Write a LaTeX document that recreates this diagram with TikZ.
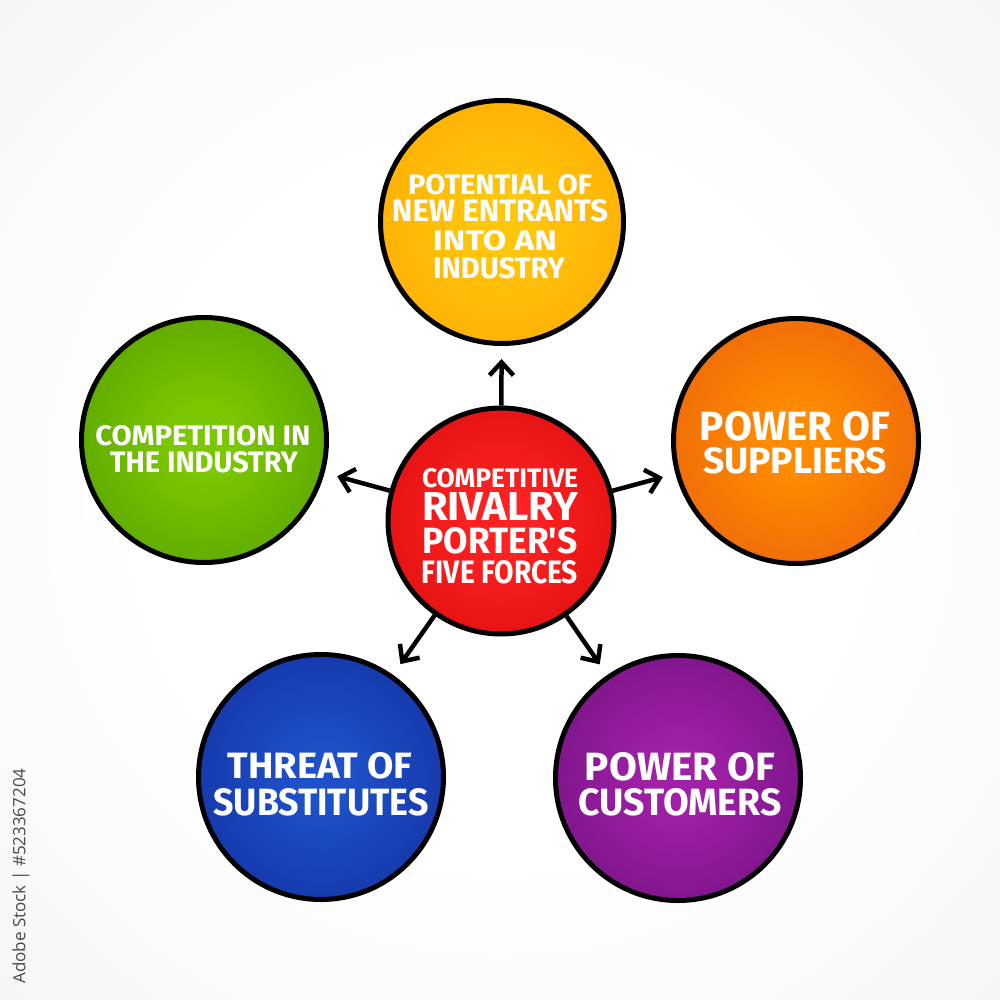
\documentclass[tikz,border=0pt]{standalone}
\usepackage{fontspec}
\usepackage{graphicx}
\usetikzlibrary{arrows.meta}
\newfontfamily\handfont{Fira Sans}
\newfontfamily\wmfont{Open Sans}
\definecolor{bgedge}{HTML}{EEEEEE}
\definecolor{bgcorner}{HTML}{E8E8E8}
\definecolor{wmgray}{HTML}{4A4A4A}
\definecolor{topin}{HTML}{FFC60A}
\definecolor{topout}{HTML}{FF9A00}
\definecolor{suppin}{HTML}{FF8C00}
\definecolor{suppout}{HTML}{E04812}
\definecolor{compin}{HTML}{7CC800}
\definecolor{compout}{HTML}{3F8A00}
\definecolor{subin}{HTML}{1E50C8}
\definecolor{subout}{HTML}{0C1E8A}
\definecolor{custin}{HTML}{A020A8}
\definecolor{custout}{HTML}{5A0A6A}
\definecolor{midin}{HTML}{FF2222}
\definecolor{midout}{HTML}{C80000}
\colorlet{ballin}{midin}
\colorlet{ballout}{midout}
\pgfdeclareradialshading[ballin,ballout]{ballfade}{\pgfpoint{0bp}{0bp}}{color(0bp)=(ballin); color(6bp)=(ballin); color(50bp)=(ballout)}
\pgfdeclareradialshading{bgfade}{\pgfpoint{0bp}{0bp}}{color(0bp)=(white); color(18bp)=(white); color(50bp)=(bgedge); color(72bp)=(bgcorner)}
\tikzset{
  fball/.style 2 args={circle, draw=black, line width=5pt, minimum size=245pt, inner sep=0pt,
    /utils/exec={\colorlet{ballin}{#1}\colorlet{ballout}{#2}}, shade, shading=ballfade},
  arr/.style={line width=4.5pt, -{Straight Barb[length=13pt,width=24pt]}, shorten >=13pt},
  lbl/.style={text=white, inner sep=0pt, anchor=base, font=\handfont\bfseries}
}
\begin{document}
\begin{tikzpicture}[x=1pt,y=-1pt]
\useasboundingbox (0,0) rectangle (1000,1000);
\shade[shading=bgfade] (0,0) rectangle (1000,1000);

% circles
\node[fball={topin}{topout}, minimum size=243pt] (top) at (502,222) {};
\node[fball={compin}{compout}] (comp) at (204,440) {};
\node[fball={suppin}{suppout}] (supp) at (796,441) {};
\node[fball={subin}{subout}] (subs) at (321,777) {};
\node[fball={custin}{custout}] (cust) at (678,778) {};
\node[fball={midin}{midout}, minimum size=226pt] (mid) at (501,521) {};

% arrows
\draw[arr] (mid) -- (top);
\draw[arr] (mid) -- (comp);
\draw[arr] (mid) -- (supp);
\draw[arr] (mid) -- (subs);
\draw[arr] (mid) -- (cust);

% texts
\node[lbl] (top1) at (500,195) {\resizebox{184pt}{20pt}{POTENTIAL OF}};
\node[lbl] (top2) at (500,222) {\resizebox{216pt}{22pt}{NEW ENTRANTS}};
\node[lbl] (top3) at (495,250) {\resizebox{124pt}{20pt}{INTO AN}};
\node[lbl] (top4) at (499,278) {\resizebox{132pt}{21pt}{INDUSTRY}};

\node[lbl] (comp1) at (203,445) {\resizebox{215pt}{20pt}{COMPETITION IN}};
\node[lbl] (comp2) at (204,472) {\resizebox{188pt}{21pt}{THE INDUSTRY}};

\node[lbl] (supp1) at (795,440) {\resizebox{190pt}{29pt}{POWER OF}};
\node[lbl] (supp2) at (795,473) {\resizebox{184pt}{26pt}{SUPPLIERS}};

\node[lbl] (subs1) at (320,778) {\resizebox{185pt}{26pt}{THREAT OF}};
\node[lbl] (subs2) at (321,815) {\resizebox{215pt}{27pt}{SUBSTITUTES}};

\node[lbl] (cust1) at (680,780) {\resizebox{190pt}{28pt}{POWER OF}};
\node[lbl] (cust2) at (680,815) {\resizebox{203pt}{27pt}{CUSTOMERS}};

\node[lbl] (mid1) at (500,487) {\resizebox{156pt}{19pt}{COMPETITIVE}};
\node[lbl] (mid2) at (500,520) {\resizebox{156pt}{28pt}{RIVALRY}};
\node[lbl] (mid3) at (500,553) {\resizebox{155pt}{26pt}{PORTER'S}};
\node[lbl] (mid4) at (500,583) {\resizebox{156pt}{23pt}{FIVE FORCES}};

% side caption
\node[rotate=90, text=wmgray, inner sep=0pt, font=\wmfont\fontsize{17}{20}\selectfont] (stock) at (21,876) {Adobe Stock | \#523367204};
\end{tikzpicture}
\end{document}
